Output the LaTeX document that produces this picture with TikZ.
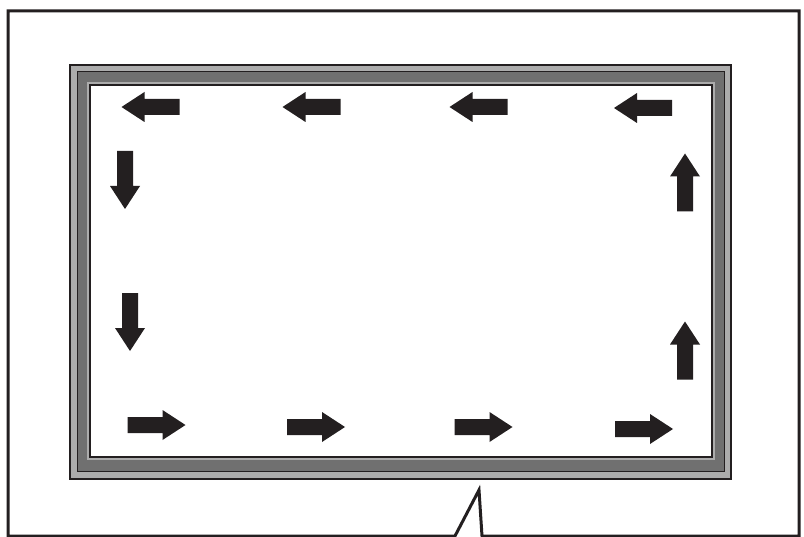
\documentclass[tikz,border=0pt]{standalone}
\usepackage{xcolor}
\definecolor{ink}{RGB}{35, 31, 32}
\definecolor{panellight}{RGB}{172, 172, 172}
\definecolor{paneldark}{RGB}{112, 112, 112}
\usepackage{tikz}
\usetikzlibrary{calc}

\begin{document}
\begin{tikzpicture}[x=0.03cm, y=-0.03cm]

        % Estilos
        \tikzset{flow/.pic={\fill [ink] (-29,-8) -- (6,-8) -- (6,-15) -- (29,0) -- (6,15) -- (6,8) -- (-29,8) -- cycle;}}
        \tikzstyle{layer} = [draw=ink, line width=0.03cm]

        \useasboundingbox (0,0) rectangle (804,537);

        % Contorno externo com a marca de corte embaixo
        \coordinate (cutL) at (455,536);
        \coordinate (cutT) at (479,490);
        \coordinate (cutR) at (482,536);
        \draw [draw=ink, line width=0.09cm, line join=miter]
            (cutL) -- (8,536) -- (8,11) -- (799,11) -- (799,536) -- (cutR) -- (cutT) -- cycle;

        % Moldura do painel (camadas)
        \draw [layer, fill=panellight, line width=0.06cm] (70,65) rectangle (731,479);
        \draw [layer, fill=paneldark] (77,72) rectangle (724,471);
        \fill [panellight] (87,82) rectangle (715,460);
        \draw [layer, fill=white, line width=0.04cm] (90,85) rectangle (712,457);

        % Setas de fluxo
        % topo (para a esquerda)
        \pic [rotate=180] (top1) at (150.5,107) {flow};
        \pic [rotate=180] (top2) at (311.5,107) {flow};
        \pic [rotate=180] (top3) at (478.5,107) {flow};
        \pic [rotate=180] (top4) at (643,108) {flow};

        % lado esquerdo (para baixo)
        \pic [rotate=-90] (left1) at (125,180) {flow};
        \pic [rotate=-90] (left2) at (130,322) {flow};

        % base (para a direita)
        \pic (bot1) at (156.5,425) {flow};
        \pic (bot2) at (316,427) {flow};
        \pic (bot3) at (483.5,427) {flow};
        \pic (bot4) at (644,429) {flow};

        % lado direito (para cima)
        \pic [rotate=90] (right1) at (685,182.5) {flow};
        \pic [rotate=90] (right2) at (685,350.5) {flow};

\end{tikzpicture}
\end{document}
